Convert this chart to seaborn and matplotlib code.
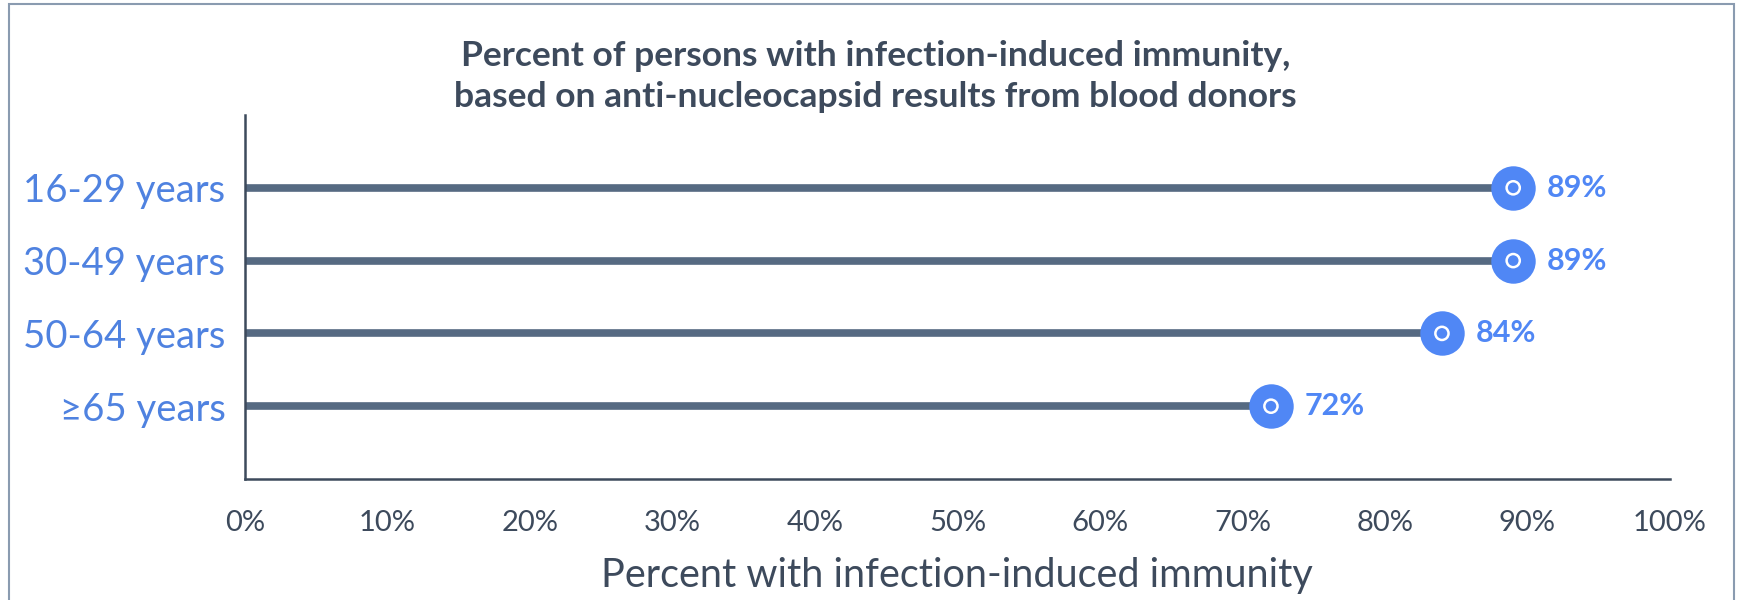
import numpy as np
import pandas as pd
import seaborn as sns
import matplotlib.pyplot as plt
from matplotlib.patches import Rectangle
from matplotlib.ticker import FixedLocator

groups = ["16-29 years", "30-49 years", "50-64 years", "≥65 years"]
percent = [89, 89, 84, 72]
xticks = [0, 10, 20, 30, 40, 50, 60, 70, 80, 90, 100]

sns.set_style("white")
plt.rcParams["font.family"] = ["Lato", "DejaVu Sans"]

dark = "#3d4a5c"
line_grey = "#566a82"
blue = "#5087f5"
label_blue = "#4f82e0"

df = pd.DataFrame({"group": groups, "pct": percent})

fig = plt.figure(figsize=(17.37, 6), dpi=100)
ax = fig.add_axes([0.141, 0.2017, 0.8204, 0.6066])

# stems
ax.hlines(y=np.arange(len(groups)), xmin=0, xmax=df["pct"], color=line_grey, lw=5.5, zorder=1)

# big dots
sns.stripplot(data=df, x="pct", y="group", orient="h", jitter=False, size=32,
              color=blue, linewidth=0, ax=ax, zorder=3)
# small white ring in the middle
ax.scatter(df["pct"], np.arange(len(groups)), s=90, facecolor="none",
           edgecolor="white", linewidth=1.8, zorder=4)

for i, v in enumerate(percent):
    ax.annotate(f"{v}%", (v, i), xytext=(24, 0), textcoords="offset points",
                va="center", ha="left", fontsize=22, fontweight="bold", color=blue)

ax.set_xlim(0, 100)
ax.set_ylim(len(groups), -1)
ax.set_xticks(xticks)
ax.set_xticklabels([f"{t}%" for t in xticks])
ax.yaxis.set_minor_locator(FixedLocator([-1, len(groups)]))

ax.tick_params(axis="x", length=0, pad=22, labelsize=21, labelcolor=dark)
ax.tick_params(axis="y", which="both", length=8, width=1.5, color=dark,
               direction="out", labelsize=27.5, labelcolor=label_blue, pad=6)

for side in ["top", "right"]:
    ax.spines[side].set_visible(False)
for side in ["left", "bottom"]:
    ax.spines[side].set_color(dark)
    ax.spines[side].set_linewidth(1.8)

ax.set_xlabel("")
ax.set_ylabel("")

fig.text(0.504, 0.873, "Percent of persons with infection-induced immunity,\nbased on anti-nucleocapsid results from blood donors",
         ha="center", va="center", fontsize=25.5, fontweight="bold", color=dark, linespacing=1.35)
fig.text(0.551, 0.04, "Percent with infection-induced immunity", ha="center", va="center",
         fontsize=28.5, color=dark)

fig.patches.append(Rectangle((0.005, -0.1), 0.993, 1.093, transform=fig.transFigure,
                             fill=False, edgecolor="#8a9bb0", linewidth=1.5))

fig.savefig("out.png", dpi=100)
